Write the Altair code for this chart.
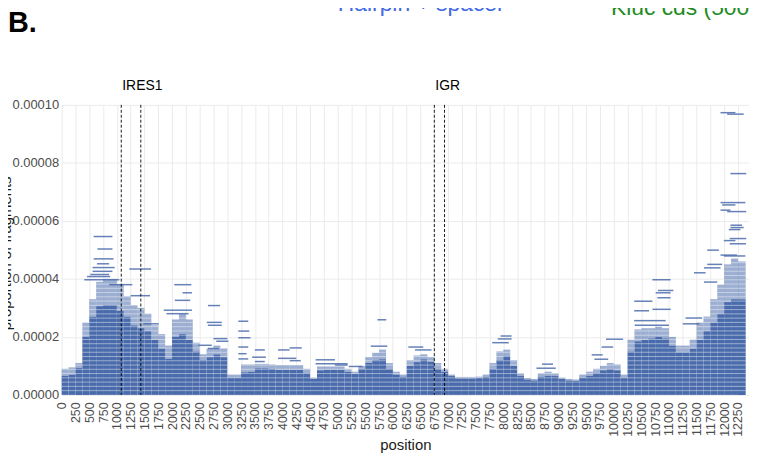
import altair as alt
import pandas as pd

# ---- profile of the dense fragment pile (125-bp bins), values in 1e-6 ----
bin_start = [0, 125, 250, 375, 500, 625, 750, 875, 1000, 1125, 1250, 1375, 1500, 1625, 1750, 1875,
             2000, 2125, 2250, 2375, 2500, 2625, 2750, 2875, 3000, 3125, 3250, 3375, 3500, 3625, 3750,
             3875, 4000, 4125, 4250, 4375, 4500, 4625, 4750, 4875, 5000, 5125, 5250, 5375, 5500, 5625,
             5750, 5875, 6000, 6125, 6250, 6375, 6500, 6625, 6750, 6875, 7000, 7125, 7250, 7375, 7500,
             7625, 7750, 7875, 8000, 8125, 8250, 8375, 8500, 8625, 8750, 8875, 9000, 9125, 9250, 9375,
             9500, 9625, 9750, 9875, 10000, 10125, 10250, 10375, 10500, 10625, 10750, 10875, 11000,
             11125, 11250, 11375, 11500, 11625, 11750, 11875, 12000, 12125, 12250]
bin_end = bin_start[1:] + [12390]
core_e6 = [6.6, 7, 9.4, 20, 27, 30.6, 31, 31, 29, 27, 24, 23, 22, 19, 16, 12.5,
           20, 21, 19, 15, 12, 13, 14, 13, 6, 6, 7.8, 8, 9.2, 9.2, 9,
           8.7, 8.7, 8.7, 8.7, 7.5, 5.5, 8.5, 8.7, 8.7, 8.7, 8, 7.2, 9, 11, 12,
           12.3, 9, 7, 6.3, 10, 11.3, 12.3, 11.5, 9, 8, 6.5, 5.7, 5.7, 5.7, 5.8,
           6.2, 9, 12, 13.4, 10, 6.5, 5.3, 5, 6.3, 6.6, 6.5, 5.5, 5, 4.8, 6,
           6.6, 7.5, 8.5, 8.9, 8.5, 6, 15, 18.5, 19, 19.5, 20, 19.5, 17,
           14.7, 14.7, 16, 19, 22, 25, 28, 32, 33, 33]
fringe_e6 = [9, 9.5, 11, 25, 33, 39, 40, 40, 38, 34, 31, 30, 28, 24, 21, 17,
             26, 28, 26, 18, 14, 16, 17, 16, 7, 7, 10.5, 10.5, 10.7, 10.7, 10.5,
             10.3, 10.3, 10.3, 10.3, 9, 6, 9.8, 9.8, 9.8, 9.8, 9, 8, 10, 13, 14.5,
             15.6, 11, 8, 7, 12, 13.6, 14, 13, 11, 9, 7, 6.2, 6.2, 6.2, 6.3,
             7, 11, 15, 15.6, 12, 7.5, 5.8, 5.5, 7.5, 8, 7.5, 6, 5.5, 5.3, 7,
             8, 9, 10, 11, 10.5, 7, 19, 22.6, 23, 23, 23.5, 23, 20,
             17, 17, 19, 25, 27, 33, 38, 45, 47, 46]

# ---- isolated fragments standing above the pile (start, end, proportion in 1e-6) ----
seg_start = [580, 650, 580, 640, 560, 1225, 560, 520, 460, 410, 1250, 860, 2040, 2190, 2050, 1850,
             1900, 2650, 2630, 2650, 2750, 2800, 2480, 2650, 3200, 3200, 3200, 3200, 3200, 3200,
             3500, 3450, 3500, 3920, 4130, 3920, 4130, 4600, 4600, 4950, 5200, 1480,
             5720, 5600, 6280, 6400, 7950, 7900, 7800, 8700, 8600, 9600, 9650, 9780, 9860,
             10700, 10800, 10760, 10790, 10370, 10700, 10370, 10370, 10380,
             11934, 12054, 12114, 11934, 11964, 11934, 12054, 12114, 12114, 12084, 12100, 11994,
             12100, 11694, 11934, 11994, 11694, 11634, 11454, 11634, 11250, 11300]
seg_end = [920, 920, 940, 860, 960, 1620, 920, 860, 880, 1045, 1600, 1280, 2350, 2360, 2330, 2360,
           2300, 2870, 2900, 2900, 3000, 3020, 2720, 2850, 3380, 3400, 3420, 3380, 3350, 3380,
           3680, 3700, 3680, 4130, 4350, 4250, 4330, 4950, 5180, 5180, 5450, 1760,
           5880, 5900, 6550, 6700, 8150, 8150, 8100, 8900, 8950, 9800, 9900, 9990, 10170,
           11030, 11080, 11030, 11030, 10700, 11030, 10640, 10940, 11000,
           12204, 12354, 12400, 12384, 12204, 12114, 12400, 12324, 12354, 12294, 12400, 12204,
           12394, 11904, 12234, 12384, 11964, 11934, 11664, 11874, 11550, 11600]
seg_e6 = [54.6, 50.3, 46.9, 45.2, 43.9, 43.4, 42.6, 41.5, 40.8, 39.7, 34.2, 38.0, 38.0, 35.2, 32.6, 29.2,
          28.0, 30.8, 25.0, 24.0, 19.4, 18.5, 17.1, 16.0, 25.4, 22.0, 19.7, 16.5, 14.2, 12.4,
          15.5, 13.0, 11.5, 15.5, 16.2, 12.6, 11.8, 12.1, 10.7, 10.3, 9.8, 24.5,
          25.9, 16.8, 16.5, 15.5, 20.3, 19.3, 18.0, 10.6, 9.2, 13.8, 12.3, 16.5, 19.2,
          39.7, 36.0, 35.2, 33.5, 32.3, 29.5, 29.0, 25.6, 24.0,
          97.3, 96.8, 76.3, 66.3, 65.5, 63.7, 63.2, 58.5, 57.7, 57.0, 53.9, 53.2,
          52.1, 49.9, 48.2, 47.9, 45.0, 43.8, 42.1, 38.9, 24.5, 26.5]

# ---- annotated regions ----
region_label = ["IRES1", "IGR"]
region_start = [1080, 6750]
region_end = [1434, 6935]

x_ticks = list(range(0, 12251, 250))
y_ticks = [0.0, 0.00002, 0.00004, 0.00006, 0.00008, 0.0001]
row_unit = 1.47e-6  # proportion step of one read

BLUE = "#4a6bab"
FONT = "Liberation Sans"

prof = pd.DataFrame({
    "start": bin_start, "end": bin_end,
    "core": [v * 1e-6 for v in core_e6],
    "fringe": [v * 1e-6 for v in fringe_e6],
    "zero": [0.0] * len(bin_start),
})
segs = pd.DataFrame({"start": seg_start, "end": seg_end, "prop": [v * 1e-6 for v in seg_e6]})
regs = pd.DataFrame({"label": region_label, "start": region_start, "end": region_end})
dashes = pd.DataFrame({"pos": region_start + region_end})

xscale = alt.Scale(domain=[0, 12450], nice=False, zero=False)
yscale = alt.Scale(domain=[0, 0.0001], nice=False)
x_axis = alt.Axis(values=x_ticks, format="d", labelAngle=270, labelFontSize=12.5, labelPadding=7,
                  title="position", titleFontSize=15, titleY=55, titleBaseline="alphabetic",
                  labelOverlap=False, labelFlush=False)
y_axis = alt.Axis(values=y_ticks, format=".5f", labelFontSize=13, labelPadding=3,
                  title="proportion of fragments", titleFontSize=15, titleX=-51, titleY=149,
                  titleAngle=270, titleBaseline="alphabetic", titleAlign="center")

core = alt.Chart(prof).mark_rect(color=BLUE).encode(
    x=alt.X("start:Q", scale=xscale, axis=x_axis), x2="end:Q",
    y=alt.Y("core:Q", scale=yscale, axis=y_axis), y2="zero:Q")

fringe = alt.Chart(prof).mark_rect(color=BLUE, opacity=0.55).encode(
    x=alt.X("start:Q", scale=xscale, axis=x_axis), x2="end:Q",
    y=alt.Y("fringe:Q", scale=yscale, axis=y_axis), y2="core:Q")

stripes = alt.Chart(prof).transform_calculate(
    lv=f"sequence(1, ceil(datum.fringe / {row_unit}))"
).transform_flatten(["lv"]).transform_calculate(
    ly=f"datum.lv * {row_unit}"
).mark_rule(color="white", opacity=0.45, strokeWidth=1).encode(
    x=alt.X("start:Q", scale=xscale, axis=x_axis), x2="end:Q",
    y=alt.Y("ly:Q", scale=yscale, axis=y_axis))

outl = alt.Chart(segs).mark_rule(color=BLUE, opacity=0.85, strokeWidth=1.5).encode(
    x=alt.X("start:Q", scale=xscale, axis=x_axis), x2="end:Q",
    y=alt.Y("prop:Q", scale=yscale, axis=y_axis))

dash = alt.Chart(dashes).mark_rule(color="black", strokeDash=[3, 2], strokeWidth=0.9).encode(
    x=alt.X("pos:Q", scale=xscale, axis=x_axis))

labels = alt.Chart(regs).mark_text(align="left", baseline="middle", fontSize=14, font=FONT,
                                   color="black", dx=1).encode(
    x=alt.X("start:Q", scale=xscale, axis=x_axis), y=alt.value(-19), text="label:N")

t_b = alt.Chart(pd.DataFrame({"t": ["B."]})).mark_text(
    align="left", baseline="alphabetic", fontSize=29, fontWeight="bold", font=FONT, color="black"
).encode(x=alt.value(-54), y=alt.value(-73), text="t:N")
t_h = alt.Chart(pd.DataFrame({"t": ["Hairpin + spacer"]})).mark_text(
    align="left", baseline="alphabetic", fontSize=23, font=FONT, color="#4169E1"
).encode(x=alt.value(278), y=alt.value(-94), text="t:N")
t_k = alt.Chart(pd.DataFrame({"t": ["Kluc cds (5000"]})).mark_text(
    align="left", baseline="alphabetic", fontSize=23, font=FONT, color="#228B22"
).encode(x=alt.value(553), y=alt.value(-90), text="t:N")

chart = alt.layer(core, fringe, stripes, outl, dash, labels, t_b, t_h, t_k).properties(
    width=692, height=292,
    autosize=alt.AutoSizeParams(type="none"),
    padding={"left": 54, "top": 96, "right": 0, "bottom": 58},
).configure_axis(
    grid=True, gridColor="#EBEBEB", gridWidth=1, domain=False, ticks=False,
    labelFont=FONT, labelColor="#4D4D4D", titleFont=FONT, titleColor="#1A1A1A",
    titleFontWeight="normal",
).configure_view(stroke=None)

chart.save("out.html", embed_options={"renderer": "svg", "actions": False})
